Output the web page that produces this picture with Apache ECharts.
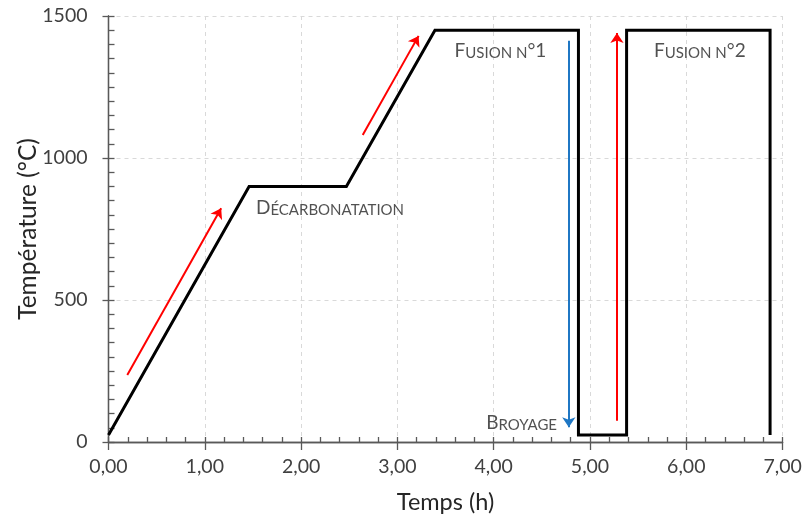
<!DOCTYPE html>
<html>
<head>
<meta charset="utf-8">
<script src="https://cdn.jsdelivr.net/npm/echarts@6/dist/echarts.min.js"></script>
<style>html,body{margin:0;padding:0;background:#fff}#c{width:805px;height:522px}</style>
</head>
<body>
<div id="c"></div>
<script>
// Temperature profile
const times = [0, 1.46, 2.47, 3.39, 4.88, 4.88, 5.38, 5.38, 6.87, 6.87];
const temps = [25, 900, 900, 1450, 1450, 25, 25, 1450, 1450, 25];

// Arrows: [x0, y0, x1, y1]
const redArrows = [
  [0.195, 236, 1.17, 823],
  [2.64, 1081, 3.22, 1430],
  [5.28, 75, 5.28, 1440]
];
const blueArrows = [
  [4.78, 1413, 4.78, 52]
];

// Annotations: [x, y, firstLetter, smallCaps, tail]
const labelsData = [
  [2.30, 824, 'D', 'ÉCARBONATATION', ''],
  [4.07, 1377, 'F', 'USION N', '°1'],
  [6.14, 1377, 'F', 'USION N', '°2'],
  [4.29, 67, 'B', 'ROYAGE', '']
];

const xMin = 0, xMax = 7, xInterval = 1;
const yMin = 0, yMax = 1500, yInterval = 500;

const FONT = 'Lato';
const axisColor = '#595959';
const chart = echarts.init(document.getElementById('c'), null, {renderer: 'canvas'});

const mkLines = (arr, color) => ({
  type: 'lines',
  coordinateSystem: 'cartesian2d',
  xAxisIndex: 0, yAxisIndex: 0,
  symbol: ['none', 'arrow'],
  symbolSize: 10,
  lineStyle: {color: color, width: 2, opacity: 1},
  data: arr.map(a => ({coords: [[a[0], a[1]], [a[2], a[3]]]})),
  z: 3
});

const tickStyle = {color: axisColor, width: 1.3};

chart.setOption({
  animation: false,
  grid: {left: 108.5, right: 22.4, top: 16, bottom: 80, containLabel: false, outerBoundsMode: 'none'},
  xAxis: [
    {
      type: 'value', min: xMin, max: xMax, interval: xInterval,
      name: 'Temps (h)', nameLocation: 'middle', nameGap: 48,
      nameTextStyle: {fontFamily: FONT, fontSize: 23.5, color: '#262626'},
      axisLine: {show: true, lineStyle: tickStyle},
      axisTick: {show: true, inside: false, length: 8, lineStyle: tickStyle},
      axisLabel: {fontFamily: FONT, fontSize: 19.5, color: '#404040', margin: 15,
        formatter: v => v.toFixed(2).replace('.', ',')},
      splitLine: {show: true, lineStyle: {color: '#d9d9d9', type: [4, 4], width: 1}}
    },
    {
      type: 'value', min: xMin, max: xMax, interval: xInterval, position: 'bottom', offset: 0,
      axisLine: {show: true, lineStyle: tickStyle},
      axisTick: {show: true, inside: true, length: 5, lineStyle: tickStyle},
      minorTick: {show: true, splitNumber: 5, length: 5, lineStyle: tickStyle},
      axisLabel: {show: false},
      splitLine: {show: false}
    }
  ],
  yAxis: [
    {
      type: 'value', min: yMin, max: yMax, interval: yInterval,
      name: 'Température (°C)', nameLocation: 'middle', nameGap: 68, nameRotate: 90,
      nameMoveOverlap: false,
      nameTextStyle: {fontFamily: FONT, fontSize: 24.5, color: '#262626'},
      axisLine: {show: true, lineStyle: tickStyle},
      axisTick: {show: true, inside: false, length: 6, lineStyle: tickStyle},
      axisLabel: {fontFamily: FONT, fontSize: 19.5, color: '#404040', margin: 21,
        formatter: v => String(v)},
      splitLine: {show: true, lineStyle: {color: '#d9d9d9', type: [4, 4], width: 1}}
    },
    {
      type: 'value', min: yMin, max: yMax, interval: yInterval, position: 'left', offset: 0,
      axisLine: {show: true, lineStyle: tickStyle},
      axisTick: {show: true, inside: true, length: 6, lineStyle: tickStyle},
      minorTick: {show: true, splitNumber: 10, length: 6, lineStyle: tickStyle},
      axisLabel: {show: false},
      splitLine: {show: false}
    }
  ],
  series: [
    {
      type: 'line',
      xAxisIndex: 0, yAxisIndex: 0,
      data: times.map((t, i) => [t, temps[i]]),
      symbol: 'none',
      lineStyle: {color: '#000', width: 3, join: 'miter'},
      z: 4
    },
    mkLines(redArrows, '#ff0000'),
    mkLines(blueArrows, '#1f77c4'),
    {
      type: 'scatter',
      xAxisIndex: 0, yAxisIndex: 0,
      symbolSize: 0,
      silent: true,
      data: labelsData.map(l => ({value: [l[0], l[1]], big: l[2], rest: l[3], tail: l[4]})),
      label: {
        show: true, position: 'inside',
        formatter: p => '{a|' + p.data.big + '}{b|' + p.data.rest + '}' + (p.data.tail ? '{a|' + p.data.tail + '}' : ''),
        rich: {
          a: {fontFamily: FONT, fontSize: 19, color: '#262626', verticalAlign: 'bottom'},
          b: {fontFamily: FONT, fontSize: 15, color: '#262626', verticalAlign: 'bottom'}
        }
      },
      z: 5
    },
    {
      type: 'line', xAxisIndex: 1, yAxisIndex: 1, data: [], symbol: 'none', silent: true
    }
  ]
});
</script>
</body>
</html>
